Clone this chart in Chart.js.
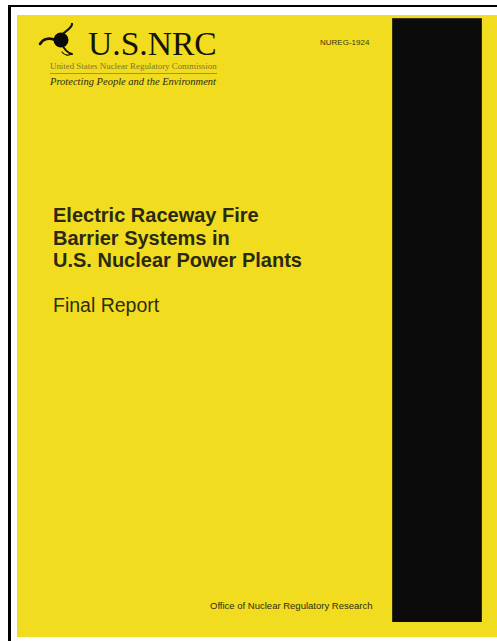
<!DOCTYPE html>
<html lang="en">
<head>
    <meta charset="UTF-8">
    <title>NUREG-1924 cover</title>
    <style>
        body {
            margin: 0;
            width: 497px;
            height: 641px;
            background-color: #ffffff;
            overflow: hidden;
            position: relative;
            font-family: "Liberation Sans", Arial, sans-serif;
        }

        /* black frame lines round the cover */
        .frame-top { position: absolute; left: 8px; top: 5px; width: 489px; height: 2px; background: #000; }
        .frame-left { position: absolute; left: 8px; top: 5px; width: 3px; height: 636px; background: #000; }

        .cover {
            position: absolute;
            left: 17px;
            top: 15px;
            width: 480px;
            height: 622px;
            background-color: #f1dc1f;
        }

        .txt { position: absolute; white-space: nowrap; color: #2a2810; line-height: 1; }

        .nrc { left: 88px; top: 32px; font-family: "Liberation Serif", serif; font-size: 33.6px; line-height: 24px; color: #15140a; }
        .agency { left: 50px; top: 62px; font-family: "Liberation Serif", serif; font-size: 8.9px; color: #80772a; }
        .rule { position: absolute; left: 50px; top: 73px; width: 167px; height: 1px; background: #a29530; }
        .motto { left: 50px; top: 77px; font-family: "Liberation Serif", serif; font-style: italic; font-size: 10.5px; color: #2c2a12; }
        .nureg { left: 320px; top: 39px; font-size: 8px; color: #3c3812; }

        .title { left: 53px; top: 204px; font-size: 20px; font-weight: bold; line-height: 22.5px; color: #2b2912; }
        .subtitle { left: 53px; top: 296px; font-size: 19.5px; color: #2f2d14; }
        .office { left: 210px; top: 601px; font-size: 9.5px; color: #2f2d14; }

        .chart-container {
            position: absolute;
            left: 392px;
            top: 18px;
            width: 90px;
            height: 604px;
        }

        #logo { position: absolute; left: 37px; top: 23px; }
    </style>
</head>
<body>
    <div class="frame-top"></div>
    <div class="frame-left"></div>
    <div class="cover"></div>

    <!-- emblem -->
    <svg id="logo" width="48" height="40" viewBox="0 0 48 40">
        <g fill="none" stroke="#15140a" stroke-linecap="round">
            <path d="M23 14 C 27 8, 35 6, 35 1" stroke-width="2.2"/>
            <path d="M18 17 C 12 14, 6 16, 3 21" stroke-width="2.6"/>
            <path d="M25 21 C 27 26, 31 30, 35 31" stroke-width="2"/>
            <path d="M35 31 C 31 33, 27 32, 25 29" stroke-width="1.2"/>
        </g>
        <circle cx="24" cy="17" r="7.5" fill="#0a0a0a"/>
    </svg>

    <div class="txt nrc">U.S.NRC</div>
    <div class="txt agency">United States Nuclear Regulatory Commission</div>
    <div class="rule"></div>
    <div class="txt motto">Protecting People and the Environment</div>
    <div class="txt nureg">NUREG-1924</div>

    <div class="txt title">Electric Raceway Fire<br>Barrier Systems in<br>U.S. Nuclear Power Plants</div>
    <div class="txt subtitle">Final Report</div>
    <div class="txt office">Office of Nuclear Regulatory Research</div>

    <!-- the black band on the right is drawn as a single bar -->
    <div class="chart-container">
        <canvas id="bandChart" width="90" height="604"></canvas>
    </div>

    <script src="https://cdn.jsdelivr.net/npm/chart.js"></script>
    <script>
        const categories = ['band'];
        const bandValues = [1];
        const axisMax = 1;

        const ctx = document.getElementById('bandChart').getContext('2d');
        const bandChart = new Chart(ctx, {
            type: 'bar',
            data: {
                labels: categories,
                datasets: [{
                    data: bandValues,
                    backgroundColor: '#0b0b0b',
                    borderColor: '#4a4010',
                    borderWidth: 1,
                    barPercentage: 1,
                    categoryPercentage: 1
                }]
            },
            options: {
                responsive: false,
                animation: false,
                layout: { padding: 0 },
                plugins: {
                    legend: { display: false },
                    tooltip: { enabled: false }
                },
                scales: {
                    x: { display: false },
                    y: { display: false, min: 0, max: axisMax }
                }
            }
        });
    </script>
</body>
</html>
